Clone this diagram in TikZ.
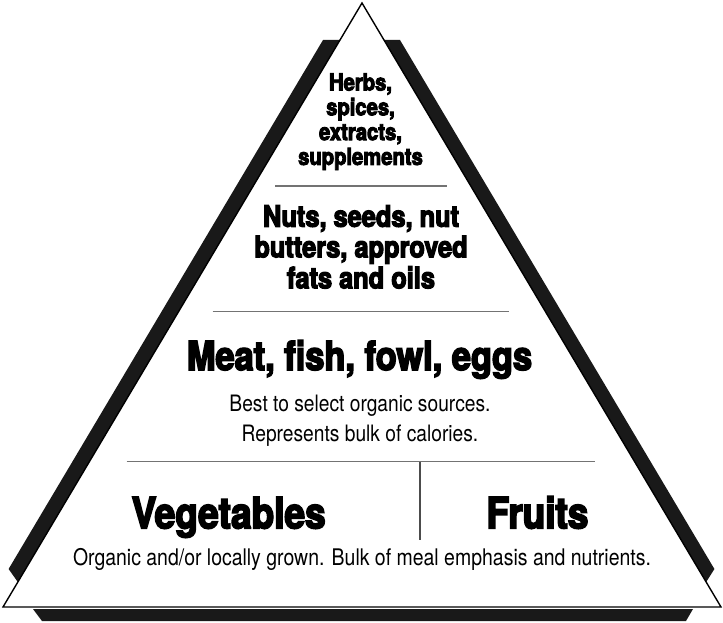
\documentclass[tikz,border=0pt]{standalone}
\usepackage{fontspec}
\newfontfamily\heavyfont{TeX Gyre Heros}[FakeStretch=0.86,FakeBold=4]
\newfontfamily\condfont{TeX Gyre Heros}[FakeStretch=0.85]
\begin{document}
\begin{tikzpicture}[x=1pt,y=-1pt,
  band/.style={fill=black!90,draw=none},
  outline/.style={draw=black,line width=1.4pt,line join=miter},
  divider/.style={draw=black!55,line width=1.3pt},
  head/.style={inner sep=0,anchor=base,font=\heavyfont\bfseries\fontsize{#1}{#1}\selectfont},
  body/.style={inner sep=0,anchor=base,font=\condfont\fontsize{#1}{#1}\selectfont}]
\useasboundingbox (0,0) rectangle (723,623);
\fill[white] (0,0) rectangle (723,623);
% shadow bands
\fill[band] (323,40) -- (340,40) -- (17.8,582) -- (8.6,569) -- cycle;
\fill[band] (384,40) -- (400,40) -- (714.4,569) -- (706.2,582) -- cycle;
\fill[band] (33,609) -- (693,609) -- (686,621) -- (42,621) -- cycle;
% triangle
\coordinate (apex) at (362,3);
\coordinate (bl) at (3,607);
\coordinate (br) at (721,607);
\draw[outline] (apex) -- (br) -- (bl) -- cycle;
% dividers
\draw[divider] (275,186) -- (447,186);
\draw[divider] (212.7,311.5) -- (509,311.5);
\draw[divider] (126.7,461.5) -- (595,461.5);
\draw[divider,draw=black!70] (420,461.5) -- (420,540);
% texts
\node[head=23.5] (herbs1) at (360.5,90.5) {Herbs,};
\node[head=23.5] (herbs2) at (360.5,115.3) {spices,};
\node[head=23.5] (herbs3) at (360.5,140.1) {extracts,};
\node[head=23.5] (herbs4) at (360.5,164.9) {supplements};
\node[head=29.5] (nuts1) at (361,226.7) {Nuts, seeds, nut};
\node[head=29.5] (nuts2) at (361,257.3) {butters, approved};
\node[head=29.5] (nuts3) at (361,288.3) {fats and oils};
\node[head=40] (meat) at (359.5,370) {Meat, fish, fowl, eggs};
\node[body=22.6] (best) at (360,411.7) {Best to select organic sources.};
\node[body=22.6] (repr) at (360,441.7) {Represents bulk of calories.};
\node[head=43] (veg) at (228.7,528.3) {Vegetables};
\node[head=43] (fruit) at (537.5,528.3) {Fruits};
\node[body=22.9] (organic) at (362,565) {Organic and/or locally grown. Bulk of meal emphasis and nutrients.};
\end{tikzpicture}
\end{document}
